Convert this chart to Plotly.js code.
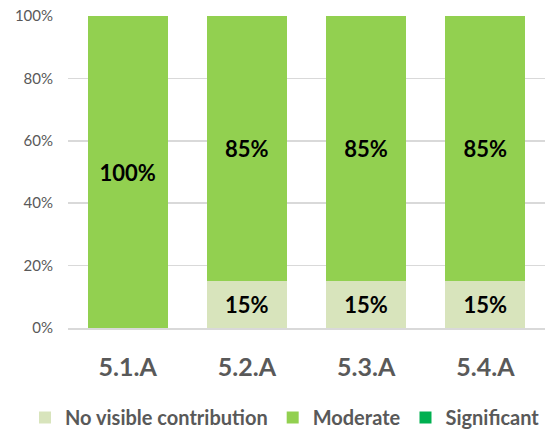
<!DOCTYPE html>
<html>
<head>
<meta charset="utf-8">
<script src="https://cdn.plot.ly/plotly-3.0.1.min.js"></script>
<style>html,body{margin:0;padding:0;background:#fff;}#chart{width:545px;height:437px;}</style>
</head>
<body>
<div id="chart"></div>
<script>
const categories = ["5.1.A", "5.2.A", "5.3.A", "5.4.A"];
const noVisible = [0, 15, 15, 15];
const moderate = [100, 85, 85, 85];
const significant = [0, 0, 0, 0];
const seriesNames = ["No visible contribution", "Moderate", "Significant"];
const colors = ["#D8E4BC", "#92D050", "#00B050"];

const FONT = "Lato, 'Open Sans', sans-serif";
const lbl = v => v.map(x => x > 0 ? x + "%" : "");
const mk = (name, vals, color) => ({
  type: "bar", name: name, x: categories, y: vals,
  marker: {color: color},
  text: lbl(vals), textposition: "inside", insidetextanchor: "middle", textangle: 0,
  textfont: {family: FONT, size: 22, color: "#000", weight: "bold"},
  hoverinfo: "skip", cliponaxis: false
});
const data = [
  mk(seriesNames[0], noVisible, colors[0]),
  mk(seriesNames[1], moderate, colors[1]),
  mk(seriesNames[2], significant, colors[2])
];
const W = 545, H = 437;
const layout = {
  width: W, height: H,
  margin: {l: 0, r: 0, t: 0, b: 0},
  barmode: "stack", bargap: 0.33,
  paper_bgcolor: "#fff", plot_bgcolor: "rgba(0,0,0,0)",
  font: {family: FONT, color: "#595959"},
  showlegend: true,
  legend: {orientation: "h", xref: "paper", x: 0.532, xanchor: "center",
    yref: "paper", y: 0, yanchor: "bottom", bgcolor: "rgba(0,0,0,0)",
    font: {family: FONT, size: 20, color: "#595959", weight: "bold"},
    traceorder: "normal", itemwidth: 30, tracegroupgap: 0},
  xaxis: {domain: [68 / W, 1], anchor: "y", tickfont: {family: FONT, size: 25, color: "#595959", weight: "bold"},
    ticks: "", tickangle: 0, automargin: false, ticklabelstandoff: 16, showline: true, linecolor: "#D9D9D9", linewidth: 2,
    showgrid: false, fixedrange: true},
  yaxis: {domain: [109 / H, 1 - 16 / H], range: [0, 100], dtick: 20, ticksuffix: "%",
    tickfont: {family: FONT, size: 15, color: "#595959"},
    automargin: false,
    showgrid: true, gridcolor: "#D9D9D9", gridwidth: 1.5, zeroline: false, ticks: "",
    ticklabelstandoff: 14, fixedrange: true}
};
Plotly.newPlot("chart", data, layout, {displayModeBar: false, staticPlot: true});
</script>
</body>
</html>
